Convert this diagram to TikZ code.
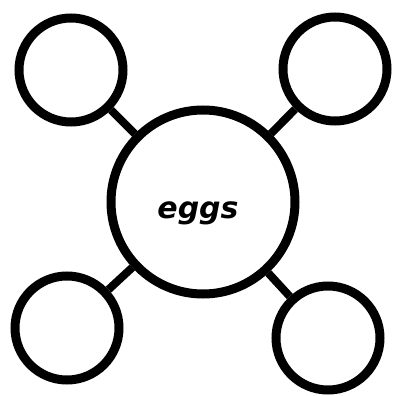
\documentclass[tikz,border=0pt]{standalone}
\usepackage{fontspec}
\newfontfamily\bubblefont{DejaVu Sans}
\begin{document}
\begin{tikzpicture}[x=1pt, y=-1pt,
    hub/.style={circle, draw, line width=9pt, minimum size=184pt, inner sep=0pt},
    bubble/.style={circle, draw, line width=9pt, minimum size=104pt, inner sep=0pt},
    spoke/.style={line width=8pt}]
  \useasboundingbox (0,0) rectangle (393,396);
  % Hub
  \node[hub] (eggs) at (203,202) {};
  \node[anchor=base, font=\bubblefont\bfseries\itshape\fontsize{30}{36}\selectfont]
    (label) at (198,218) {eggs};
  % Satellites
  \node[bubble] (tl) at (71,70) {};
  \node[bubble] (tr) at (335,69) {};
  \node[bubble] (bl) at (67,328) {};
  \node[bubble] (br) at (328,338) {};
  % Spokes
  \foreach \s in {tl, tr, bl, br} {
    \draw[spoke] (eggs) -- (\s);
  }
\end{tikzpicture}
\end{document}
